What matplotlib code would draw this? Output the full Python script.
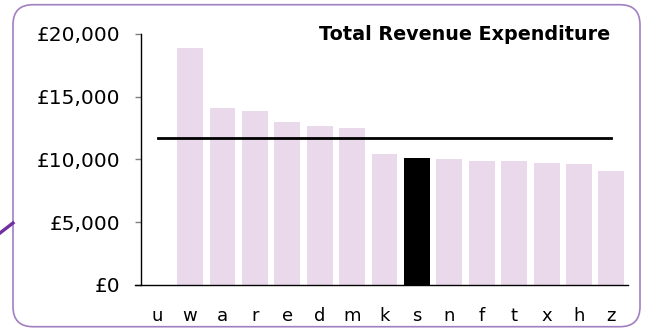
import matplotlib
matplotlib.use("Agg")
import matplotlib.pyplot as plt
import matplotlib.patches as mpatches
from matplotlib.lines import Line2D
from matplotlib.transforms import IdentityTransform
from matplotlib.ticker import FuncFormatter

# Spend per area, sorted high to low; "s" is the highlighted authority
areas = ["u", "w", "a", "r", "e", "d", "m", "k", "s", "n", "f", "t", "x", "h", "z"]
spend = [0, 18900, 14080, 13870, 12960, 12650, 12530, 10440, 10140, 10040, 9860, 9860, 9700, 9640, 9060]
highlight = "s"
average = 11700

bar_colour = "#ead9eb"
frame_colour = "#a17fc1"

fig = plt.figure(figsize=(6.49, 3.30), dpi=100)
ax = fig.add_axes([0.218, 0.1364, 0.749, 0.7606])

colours = ["black" if a == highlight else bar_colour for a in areas]
x = list(range(len(areas)))
ax.bar(x, spend, width=0.8, color=colours, zorder=2)

# average line across all areas
ax.plot([x[0], x[-1]], [average, average], color="black", lw=2, zorder=3)

ax.set_xlim(-0.5, len(areas) - 0.5)
ax.set_ylim(0, 20000)
ax.set_yticks([0, 5000, 10000, 15000, 20000])
ax.yaxis.set_major_formatter(FuncFormatter(lambda v, p: f"£{v:,.0f}"))
ax.set_xticks(x)
ax.set_xticklabels(areas)

ax.tick_params(axis="y", length=4.5, width=1, color="#808080", pad=11, labelsize=14.5)
ax.tick_params(axis="x", length=0, pad=16, labelsize=13)
for side in ["top", "right"]:
    ax.spines[side].set_visible(False)
ax.spines["left"].set_linewidth(1)
ax.spines["bottom"].set_linewidth(1)
ax.spines["bottom"].set_bounds(-0.7, len(areas) - 0.5)

fig.text(610 / 649, 1 - 34 / 330, "Total Revenue Expenditure", ha="right", va="center",
         fontsize=13.8, fontweight="bold")

# rounded frame around the chart, drawn in pixels
frame = mpatches.FancyBboxPatch((13, 3.3), 627, 322, boxstyle="round,pad=0,rounding_size=20",
                                transform=IdentityTransform(), facecolor="none",
                                edgecolor=frame_colour, lw=1.2)
fig.patches.append(frame)

# connector stub on the left edge
fig.lines.append(Line2D([0, 13], [97, 107], transform=IdentityTransform(),
                        color="#7030a0", lw=2.4))

fig.savefig("out.png", dpi=100)
